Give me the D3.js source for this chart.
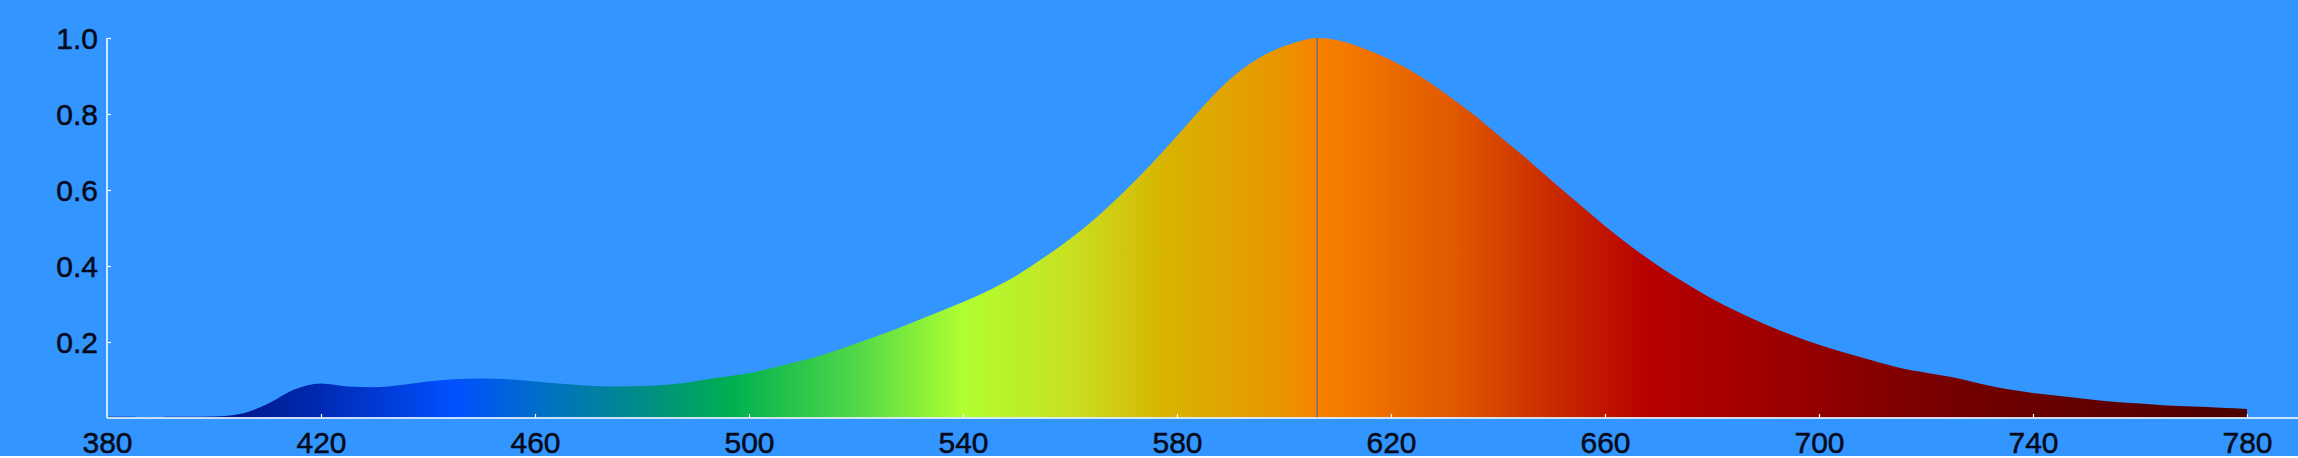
<!DOCTYPE html>
<html>
<head>
<meta charset="utf-8">
<script src="https://cdn.jsdelivr.net/npm/d3@7"></script>
<style>
  html, body { margin: 0; padding: 0; background: #3395ff; overflow: hidden; }
  svg { display: block; }
  text { font-family: "Liberation Sans", Arial, sans-serif; }
</style>
</head>
<body>
<script>
// Size of the picture
const w = 2298;
const h = 458;

// Spectrum (wavelength in nm, relative intensity)
const wavelengths = [
  380, 385, 387, 389, 391, 395, 400, 405, 410, 415, 420, 425, 430, 435, 440,
  445, 450, 455, 460, 465, 470, 475, 480, 485, 490, 495, 500, 505, 510, 515,
  520, 525, 530, 535, 540, 545, 550, 555, 560, 565, 570, 575, 580, 585, 590,
  595, 600, 603, 606, 610, 615, 620, 625, 630, 635, 640, 645, 650, 655, 660,
  665, 670, 675, 680, 685, 690, 695, 700, 705, 710, 715, 720, 725, 730, 735,
  740, 745, 750, 755, 760, 765, 770, 775, 780,
];
const intensity = [
  0.003, 0.003, 0.0, 0.0, 0.003, 0.003, 0.004, 0.011, 0.037, 0.075, 0.091, 0.083, 0.081, 0.087, 0.096,
  0.102, 0.104, 0.102, 0.096, 0.090, 0.085, 0.083, 0.084, 0.088, 0.097, 0.108, 0.118, 0.134, 0.151, 0.172,
  0.196, 0.221, 0.248, 0.276, 0.305, 0.337, 0.375, 0.421, 0.471, 0.528, 0.594, 0.665, 0.742, 0.822, 0.893,
  0.945, 0.978, 0.992, 1.0, 0.994, 0.972, 0.942, 0.903, 0.855, 0.803, 0.745, 0.687, 0.625, 0.565, 0.505,
  0.450, 0.400, 0.355, 0.314, 0.278, 0.246, 0.218, 0.193, 0.171, 0.151, 0.132, 0.119, 0.107, 0.091, 0.076,
  0.066, 0.058, 0.050, 0.043, 0.038, 0.033, 0.030, 0.027, 0.024,
];

// Wavelength of the marked peak
const peakWavelength = 606.2;

// Tick labels
const xTicks = [380, 420, 460, 500, 540, 580, 620, 660, 700, 740, 780];
const yTicks = [0.2, 0.4, 0.6, 0.8, 1.0];

// Colour stops of the fill, by wavelength
const stopWavelengths = [380, 405, 420, 445, 462, 482, 497, 520, 540, 560, 578, 600, 607, 632, 648, 668, 696, 722, 780];
const stopColors = [
  "#00105e", "#00188c", "#002ab4", "#0050ff", "#0070c4", "#009080", "#00b050", "#50d848", "#b0ff30",
  "#c8e020", "#d8b400", "#ea9400", "#f88000", "#e05800", "#cc3000", "#b80000", "#980000", "#780000", "#4a0000",
];

const data = wavelengths.map((d, i) => ({ nm: d, v: intensity[i] }));

const x = d3.scaleLinear().domain([380, 780]).range([107, 2247]);
const y = d3.scaleLinear().domain([0, 1]).range([418, 38]);

const svg = d3.select("body").append("svg").attr("width", w).attr("height", h);

svg.append("rect").attr("width", w).attr("height", h).attr("fill", "#3395ff");

// gradient across the spectrum
const grad = svg.append("defs").append("linearGradient")
  .attr("id", "spectrum")
  .attr("gradientUnits", "userSpaceOnUse")
  .attr("x1", x(380)).attr("x2", x(780))
  .attr("y1", 0).attr("y2", 0);

grad.selectAll("stop")
  .data(stopWavelengths)
  .enter()
  .append("stop")
  .attr("offset", function (d) {
    return (d - 380) / 400;
  })
  .attr("stop-color", function (d, i) {
    return stopColors[i];
  });

const area = d3.area()
  .x(d => x(d.nm))
  .y0(y(0) - 0.5)
  .y1(d => y(d.v))
  .curve(d3.curveMonotoneX);

svg.append("path")
  .datum(data)
  .attr("d", area)
  .attr("fill", "url(#spectrum)");

// peak marker
svg.append("line")
  .attr("x1", x(peakWavelength)).attr("x2", x(peakWavelength))
  .attr("y1", y(1)).attr("y2", y(0))
  .attr("stroke", "#707070")
  .attr("stroke-width", 1.5);

// axes
const xAxis = d3.axisBottom(x)
  .tickValues(xTicks)
  .tickFormat(d3.format("d"))
  .tickSizeInner(-4)
  .tickSizeOuter(0)
  .tickPadding(15);

const yAxis = d3.axisLeft(y)
  .tickValues(yTicks)
  .tickFormat(d3.format(".1f"))
  .tickSizeInner(-4)
  .tickSizeOuter(0)
  .tickPadding(9);

const gx = svg.append("g").attr("transform", "translate(0," + y(0) + ")").call(xAxis);
const gy = svg.append("g").attr("transform", "translate(" + x(380) + ",0)").call(yAxis);

[gx, gy].forEach(function (g) {
  g.select(".domain").remove();
  g.selectAll(".tick line").attr("stroke", "#ffffff").attr("stroke-width", 1.2);
  g.selectAll(".tick text")
    .attr("fill", "#050a1a")
    .attr("stroke", "#050a1a")
    .attr("stroke-width", 0.5)
    .attr("font-size", 30)
    .attr("font-family", "Liberation Sans, Arial, sans-serif");
});
gx.select(".tick:first-of-type line").remove();
gx.selectAll(".tick text").attr("dy", "0.68em");
gy.selectAll(".tick text").attr("dy", "0.34em");

// axis lines
svg.append("line")
  .attr("x1", x(380)).attr("x2", w)
  .attr("y1", y(0)).attr("y2", y(0))
  .attr("stroke", "#ffffff").attr("stroke-width", 1.5);
svg.append("line")
  .attr("x1", x(380)).attr("x2", x(380))
  .attr("y1", y(0)).attr("y2", y(1))
  .attr("stroke", "#ffffff").attr("stroke-width", 1.5);

// thin white strip at the very bottom
svg.append("rect").attr("x", 0).attr("y", 456).attr("width", w).attr("height", 2).attr("fill", "#ffffff");
</script>
</body>
</html>
